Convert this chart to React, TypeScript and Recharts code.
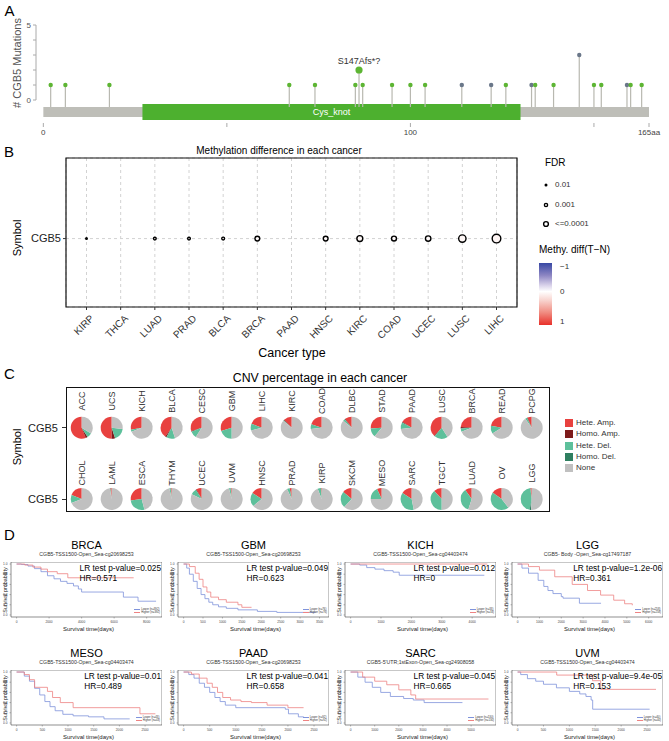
import React from 'react';
import {
  ScatterChart,
  Scatter,
  XAxis,
  YAxis,
  ReferenceArea,
  ReferenceLine,
  CartesianGrid,
  PieChart,
  Pie,
  Cell,
  LineChart,
  Line,
} from 'recharts';

const FONT = 'Arial, "Liberation Sans", Helvetica, sans-serif';

// ---------- A: lollipop of CGB5 mutations ----------
const proteinLength = 165;
const domainName = 'Cys_knot';
const domainStart = 27;
const domainEnd = 130;
const mutPositions = [2, 6, 18, 67, 74, 85, 86, 87, 95, 100, 104, 114, 122, 126, 133, 134, 139, 146, 150, 152, 159, 160, 163];
const mutCounts = [1, 1, 1, 1, 1, 1, 2, 1, 1, 1, 1, 1, 1, 1, 1, 1, 1, 3, 1, 1, 1, 1, 1];
const mutKinds = [
  'missense', 'missense', 'missense', 'missense', 'missense', 'missense', 'missense', 'missense',
  'missense', 'missense', 'missense', 'other', 'other', 'missense', 'other', 'missense',
  'missense', 'other', 'missense', 'missense', 'other', 'missense', 'missense',
];
const mutLabels: Record<number, string> = { 86: 'S147Afs*?' };
const aTicks = [0, 50, 100, 150, 165];

// ---------- B: methylation difference ----------
const methCancers = ['KIRP', 'THCA', 'LUAD', 'PRAD', 'BLCA', 'BRCA', 'PAAD', 'HNSC', 'KIRC', 'COAD', 'UCEC', 'LUSC', 'LIHC'];
// -log10(FDR), null = not significant
const methFdr = [2.0, null, 2.7, 2.7, 2.8, 4.0, null, 4.0, 4.7, 4.1, 4.4, 5.6, 6.4];
const methDiff = [0.05, null, 0.04, 0.04, 0.05, 0.03, null, 0.03, 0.04, 0.03, 0.03, 0.04, 0.05];
const fdrLegend = [
  { label: '0.01', v: 2 },
  { label: '0.001', v: 3 },
  { label: '<=0.0001', v: 4 },
];

// ---------- C: CNV pies ----------
const cnvCancers = [
  'ACC', 'UCS', 'KICH', 'BLCA', 'CESC', 'GBM', 'LIHC', 'KIRC', 'COAD', 'DLBC', 'STAD', 'PAAD', 'LUSC', 'BRCA', 'READ', 'PCPG',
  'CHOL', 'LAML', 'ESCA', 'THYM', 'UCEC', 'UVM', 'HNSC', 'PRAD', 'KIRP', 'SKCM', 'MESO', 'SARC', 'TGCT', 'LUAD', 'OV', 'LGG',
];
const hetAmp = [
  0.56, 0.5, 0.28, 0.4, 0.3, 0.3, 0.19, 0.12, 0.2, 0.1, 0.26, 0.16, 0.38, 0.24, 0.22, 0.06,
  0.19, 0.02, 0.27, 0.015, 0.08, 0.015, 0.16, 0.03, 0.01, 0.14, 0.07, 0.16, 0.12, 0.1, 0.15, 0.02,
];
const homAmp = [
  0.03, 0.05, 0, 0.02, 0.01, 0, 0, 0.01, 0, 0.01, 0, 0.01, 0.01, 0.02, 0, 0.01,
  0, 0, 0, 0, 0.01, 0, 0, 0, 0, 0, 0, 0, 0, 0, 0.005, 0,
];
const hetDel = [
  0.07, 0.18, 0.03, 0.13, 0.1, 0.2, 0.1, 0.01, 0.07, 0.03, 0.13, 0.1, 0.2, 0.05, 0.12, 0.03,
  0.12, 0.01, 0.27, 0.02, 0.09, 0.025, 0.2, 0.04, 0.05, 0.24, 0.18, 0.37, 0.38, 0.35, 0.45, 0.45,
];
const homDel = [
  0, 0, 0, 0, 0, 0, 0, 0, 0, 0, 0, 0, 0, 0, 0, 0,
  0, 0, 0, 0, 0, 0, 0, 0, 0, 0, 0, 0, 0, 0, 0, 0.02,
];
const cnvTypes = ['Hete. Amp.', 'Homo. Amp.', 'Hete. Del.', 'Homo. Del.', 'None'];
const cnvColors = ['#E8413F', '#7E1B1B', '#5DC09B', '#2F7F60', '#C0C0C0'];

// ---------- D: survival curves (time in days, survival probability) ----------
const brcaLow = [[0, 1], [300, 0.99], [700, 0.96], [1100, 0.91], [1500, 0.85], [1900, 0.77], [2300, 0.71], [2700, 0.66], [3100, 0.62], [3500, 0.57], [3800, 0.51], [4000, 0.45], [6570, 0.35], [7470, 0.27], [8580, 0.27]];
const brcaHigh = [[0, 1], [500, 0.98], [1000, 0.94], [1500, 0.9], [1900, 0.85], [2500, 0.81], [3150, 0.73], [7200, 0.73]];
const gbmLow = [[0, 1], [80, 0.92], [150, 0.8], [250, 0.66], [350, 0.52], [450, 0.4], [550, 0.32], [650, 0.25], [750, 0.2], [900, 0.16], [1100, 0.13], [1400, 0.1], [1900, 0.07], [2400, 0.05], [3400, 0.05]];
const gbmHigh = [[0, 1], [150, 0.95], [300, 0.82], [400, 0.7], [500, 0.55], [600, 0.45], [700, 0.35], [900, 0.3], [1100, 0.25], [1400, 0.2], [1500, 0.15], [1750, 0.15]];
const kichLow = [[0, 1], [300, 0.98], [530, 0.93], [800, 0.9], [1100, 0.87], [1400, 0.84], [1600, 0.78], [4400, 0.78]];
const kichHigh = [[0, 1], [4500, 1]];
const lggLow = [[0, 1], [200, 0.92], [500, 0.82], [940, 0.68], [1200, 0.56], [1390, 0.48], [1620, 0.42], [2000, 0.36], [2080, 0.33], [2830, 0.23], [3820, 0.23]];
const lggHigh = [[0, 1], [500, 0.95], [1000, 0.88], [1700, 0.75], [2500, 0.6], [3200, 0.48], [3800, 0.39], [4400, 0.29], [4900, 0.22], [5250, 0.19]];
const mesoLow = [[0, 1], [150, 0.92], [250, 0.82], [350, 0.68], [450, 0.55], [550, 0.42], [650, 0.32], [750, 0.24], [900, 0.17], [1100, 0.14], [1400, 0.12], [1700, 0.08], [2200, 0.08]];
const mesoHigh = [[0, 1], [150, 0.95], [250, 0.85], [350, 0.7], [600, 0.62], [700, 0.5], [850, 0.4], [1100, 0.3], [2400, 0.18], [2700, 0.18]];
const paadLow = [[0, 1], [100, 0.95], [200, 0.88], [300, 0.78], [400, 0.7], [500, 0.6], [600, 0.5], [700, 0.42], [800, 0.35], [1000, 0.3], [1950, 0.27], [2010, 0.18], [2200, 0.12], [2300, 0.1]];
const paadHigh = [[0, 1], [150, 0.96], [300, 0.88], [450, 0.78], [550, 0.7], [650, 0.6], [750, 0.5], [900, 0.45], [1100, 0.42], [1300, 0.4], [1600, 0.35], [2000, 0.3], [2300, 0.3]];
const sarcLow = [[0, 1], [300, 0.9], [600, 0.8], [900, 0.7], [1250, 0.6], [1650, 0.52], [2200, 0.48], [2600, 0.45], [3050, 0.4], [4640, 0.4]];
const sarcHigh = [[0, 1], [500, 0.9], [1000, 0.82], [1500, 0.75], [2000, 0.65], [2500, 0.55], [2700, 0.47], [5720, 0.47]];
const uvmLow = [[0, 1], [60, 0.95], [190, 0.87], [350, 0.82], [500, 0.76], [750, 0.69], [1000, 0.62], [1200, 0.57], [1320, 0.52], [1420, 0.45], [1450, 0.27], [2550, 0.27]];
const uvmHigh = [[0, 1], [755, 0.94], [1447, 0.83], [1604, 0.66], [2673, 0.66]];

const kmPanels = [
  { name: 'BRCA', probe: 'CGB5-TSS1500-Open_Sea-cg20698253', p: '0.025', hr: '0.571', low: brcaLow, high: brcaHigh, xMax: 8600, ticks: [0, 2000, 4000, 6000, 8000], nLow: 392, nHigh: 392 },
  { name: 'GBM', probe: 'CGB5-TSS1500-Open_Sea-cg20698253', p: '0.049', hr: '0.623', low: gbmLow, high: gbmHigh, xMax: 3600, ticks: [0, 500, 1000, 1500, 2000, 2500, 3000, 3500], nLow: 76, nHigh: 76 },
  { name: 'KICH', probe: 'CGB5-TSS1500-Open_Sea-cg04403474', p: '0.012', hr: '0', low: kichLow, high: kichHigh, xMax: 4600, ticks: [0, 1000, 2000, 3000, 4000], nLow: 33, nHigh: 33 },
  { name: 'LGG', probe: 'CGB5- Body -Open_Sea-cg17497187', p: '1.2e-06', hr: '0.361', low: lggLow, high: lggHigh, xMax: 6400, ticks: [0, 1000, 2000, 3000, 4000, 5000, 6000], nLow: 258, nHigh: 258 },
  { name: 'MESO', probe: 'CGB5-TSS1500-Open_Sea-cg04403474', p: '0.01', hr: '0.489', low: mesoLow, high: mesoHigh, xMax: 2720, ticks: [0, 500, 1000, 1500, 2000, 2500], nLow: 43, nHigh: 43 },
  { name: 'PAAD', probe: 'CGB5-TSS1500-Open_Sea-cg20698253', p: '0.041', hr: '0.658', low: paadLow, high: paadHigh, xMax: 2680, ticks: [0, 500, 1000, 1500, 2000, 2500], nLow: 92, nHigh: 92 },
  { name: 'SARC', probe: "CGB5-5'UTR;1stExon-Open_Sea-cg24908058", p: '0.045', hr: '0.665', low: sarcLow, high: sarcHigh, xMax: 5800, ticks: [0, 1000, 2000, 3000, 4000, 5000], nLow: 130, nHigh: 130 },
  { name: 'UVM', probe: 'CGB5-TSS1500-Open_Sea-cg04403474', p: '9.4e-05', hr: '0.153', low: uvmLow, high: uvmHigh, xMax: 2700, ticks: [0, 500, 1000, 1500, 2000, 2500], nLow: 40, nHigh: 40 },
];

// ---------- helpers ----------
const Label = ({ x, y, children, size = 10, color = '#000', rotate = 0, anchor = 'middle' }: any) => {
  const tx = anchor === 'middle' ? '-50%' : anchor === 'end' ? '-100%' : '0';
  return (
    <div
      style={{
        position: 'absolute',
        left: x,
        top: y,
        transform: `translate(${tx},-50%) rotate(${rotate}deg)`,
        fontSize: size,
        color,
        whiteSpace: 'nowrap',
        lineHeight: 1,
      }}
    >
      {children}
    </div>
  );
};

const fdrRadius = (v: number) => 0.8 * v - 0.8;
const diffColor = (d: number) => {
  // white -> red for positive difference
  const t = Math.max(0, Math.min(1, d));
  const r = Math.round(255 + (232 - 255) * t);
  const g = Math.round(255 + (48 - 255) * t);
  const b = Math.round(255 + (42 - 255) * t);
  return `rgb(${r},${g},${b})`;
};

// ---------- panel A ----------
const mutations = mutPositions.map((pos, i) => ({ pos, count: mutCounts[i], kind: mutKinds[i], label: mutLabels[pos] }));
const backboneTop = -0.47;

const LollipopHead = (p: any) => {
  const { cx, cy, payload } = p;
  const fill = payload.kind === 'missense' ? '#5DB533' : '#6A7789';
  return (
    <g>
      <circle cx={cx} cy={cy} r={payload.label ? 3.6 : 2.2} fill={fill} />
      {payload.label && (
        <text x={cx} y={cy - 6} textAnchor="middle" fontSize={9} fill="#333">
          {payload.label}
        </text>
      )}
    </g>
  );
};

function PanelA() {
  return (
    <div style={{ position: 'absolute', left: 0, top: 0 }}>
      <ScatterChart width={669} height={140} margin={{ top: 25, right: 20, bottom: 2, left: 24 }}>
        <XAxis
          type="number"
          dataKey="pos"
          domain={[-2, proteinLength]}
          allowDataOverflow
          ticks={aTicks}
          interval={0}
          tickFormatter={(v: number) => (v === 0 || v === 100 ? String(v) : v === proteinLength ? `${v}aa` : '')}
          axisLine={false}
          tickSize={4}
          tickLine={{ stroke: '#aaa' }}
          tick={{ fontSize: 8, fill: '#444' }}
          height={15}
        />
        <YAxis
          type="number"
          dataKey="count"
          domain={[-1.533, 5]}
          allowDataOverflow
          ticks={[0, 1, 2, 3, 4, 5]}
          interval={0}
          tickFormatter={(v: number) => (v === 0 || v === 5 ? String(v) : '')}
          axisLine={false}
          tickSize={3}
          tickLine={{ stroke: '#aaa' }}
          tick={{ fontSize: 8, fill: '#555' }}
          width={12}
        />
        <ReferenceLine segment={[{ x: -2, y: 0 }, { x: -2, y: 5 }]} stroke="#aaa" ifOverflow="visible" />
        <ReferenceArea x1={0} x2={proteinLength} y1={-1.13} y2={backboneTop} fill="#BEBEB8" fillOpacity={1} />
        <ReferenceArea
          x1={domainStart}
          x2={domainEnd}
          y1={-1.33}
          y2={-0.27}
          fill="#4DB02F"
          fillOpacity={1}
          label={{ value: domainName, position: 'center', fill: '#fff', fontSize: 9 }}
        />
        {mutations.map((m) => (
          <ReferenceLine
            key={m.pos}
            segment={[{ x: m.pos, y: backboneTop }, { x: m.pos, y: m.count }]}
            stroke="#B8B8B0"
            strokeWidth={1.2}
            ifOverflow="visible"
          />
        ))}
        <Scatter data={mutations} isAnimationActive={false} shape={LollipopHead} />
      </ScatterChart>
    </div>
  );
}

// ---------- panel B ----------
const methPoints = methCancers
  .map((c, i) => ({ x: i + 1, y: 1, cancer: c, fdr: methFdr[i], diff: methDiff[i] }))
  .filter((d) => d.fdr !== null);

const SlantTick = ({ x, y, payload }: any) => (
  <g transform={`translate(${x + 3},${y + 2}) rotate(-45)`}>
    <text x={0} y={0} dy="0.71em" textAnchor="end" fontSize={10} fill="#333">
      {methCancers[payload.value - 1]}
    </text>
  </g>
);

function PanelB() {
  return (
    <div style={{ position: 'absolute', left: 0, top: 140 }}>
      <ScatterChart width={669} height={222} margin={{ top: 18, right: 152, bottom: 0, left: 20 }}>
        <CartesianGrid strokeDasharray="3 3" stroke="#d2d2d2" />
        <XAxis
          type="number"
          dataKey="x"
          domain={[0.4, methCancers.length + 0.6]}
          allowDataOverflow
          ticks={methCancers.map((_, i) => i + 1)}
          interval={0}
          tick={<SlantTick />}
          axisLine={false}
          tickSize={3}
          tickLine={{ stroke: '#333' }}
          height={55}
        />
        <YAxis
          type="number"
          dataKey="y"
          domain={[0.449, 1.649]}
          allowDataOverflow
          ticks={[1]}
          tickFormatter={() => 'CGB5'}
          axisLine={false}
          tickSize={3}
          tickLine={{ stroke: '#333' }}
          tick={{ fontSize: 11, fill: '#222' }}
          width={46}
        />
        <ReferenceArea
          x1={0.4}
          x2={methCancers.length + 0.6}
          y1={0.449}
          y2={1.649}
          fill="none"
          stroke="#111"
          strokeWidth={1.2}
          ifOverflow="visible"
        />
        <Scatter
          data={methPoints}
          isAnimationActive={false}
          shape={(p: any) => (
            <circle
              cx={p.cx}
              cy={p.cy}
              r={fdrRadius(p.payload.fdr)}
              fill={diffColor(p.payload.diff)}
              stroke="#000"
              strokeWidth={1.4}
            />
          )}
        />
      </ScatterChart>
    </div>
  );
}

function LegendB() {
  return (
    <>
      <Label x={545} y={163} size={10} anchor="start">FDR</Label>
      {fdrLegend.map((f, i) => (
        <React.Fragment key={f.label}>
          <svg style={{ position: 'absolute', left: 540, top: 179 + i * 19.7 }} width={12} height={12}>
            <circle cx={6} cy={6} r={fdrRadius(f.v)} fill="#fff" stroke="#000" strokeWidth={1.4} />
          </svg>
          <Label x={555} y={185 + i * 19.7} size={8} color="#333" anchor="start">
            {f.label}
          </Label>
        </React.Fragment>
      ))}
      <Label x={539} y={250} size={10} anchor="start">Methy. diff(T{'\u2212'}N)</Label>
      <div
        style={{
          position: 'absolute',
          left: 539,
          top: 263,
          width: 12.5,
          height: 62,
          background:
            'linear-gradient(to bottom, #3848A4 0%, #8D86C3 20%, #D9D2EA 36%, #ffffff 46%, #F8D4CF 60%, #F08B80 80%, #E8302A 100%)',
        }}
      />
      <Label x={560} y={267} size={8} color="#333" anchor="start">{'\u2212'}1</Label>
      <Label x={560} y={292} size={8} color="#333" anchor="start">0</Label>
      <Label x={560} y={322} size={8} color="#333" anchor="start">1</Label>
    </>
  );
}

// ---------- panel C ----------
const cnvSlices = cnvCancers.map((c, i) => {
  const vals = [hetAmp[i], homAmp[i], hetDel[i], homDel[i]];
  const none = 1 - vals.reduce((a, b) => a + b, 0);
  return [...vals, none].map((value, j) => ({ name: cnvTypes[j], value }));
});
const pieX0 = 81.7;
const pieStep = 30;
const pieRowY = [427.7, 499];

function PanelC() {
  return (
    <>
      <div
        style={{
          position: 'absolute',
          left: 66,
          top: 387,
          width: 484,
          height: 125,
          border: '1.5px solid #111',
          boxSizing: 'border-box',
        }}
      />
      <div style={{ position: 'absolute', left: 0, top: 385 }}>
        <PieChart width={669} height={130} margin={{ top: 0, right: 0, bottom: 0, left: 0 }}>
          {cnvCancers.map((c, i) => {
            const row = Math.floor(i / 16);
            const col = i % 16;
            return (
              <Pie
                key={c}
                data={cnvSlices[i]}
                dataKey="value"
                cx={pieX0 + pieStep * col}
                cy={pieRowY[row] - 385}
                outerRadius={11}
                startAngle={90}
                endAngle={450}
                stroke="none"
                isAnimationActive={false}
              >
                {cnvSlices[i].map((s, j) => (
                  <Cell key={s.name} fill={cnvColors[j]} />
                ))}
              </Pie>
            );
          })}
        </PieChart>
      </div>
      {cnvCancers.map((c, i) => (
        <Label key={c} x={pieX0 + pieStep * (i % 16)} y={i < 16 ? 401 : 473} size={9} color="#333" rotate={-90}>
          {c}
        </Label>
      ))}
      {pieRowY.map((y) => (
        <React.Fragment key={y}>
          <Label x={58} y={y} size={11} color="#222" anchor="end">CGB5</Label>
          <div style={{ position: 'absolute', left: 62, top: y - 0.5, width: 4, height: 1, background: '#333' }} />
        </React.Fragment>
      ))}
      <Label x={17} y={447} size={11} rotate={-90}>Symbol</Label>
      <Label x={320} y={378} size={12.3}>CNV percentage in each cancer</Label>
      {cnvTypes.map((t, j) => (
        <React.Fragment key={t}>
          <div style={{ position: 'absolute', left: 565, top: 419.3 + j * 11.1, width: 8, height: 8, background: cnvColors[j] }} />
          <Label x={576} y={423.3 + j * 11.1} size={8} color="#333" anchor="start">
            {t}
          </Label>
        </React.Fragment>
      ))}
    </>
  );
}

// ---------- panel D ----------
const KM_W = 151;
const KM_H = 55;
const kmLefts = [11, 178, 345, 512];
const kmTops = [562, 670];
const lowColor = '#7F93DB';
const highColor = '#EE8383';

function KmPanel({ panel, left, top }: any) {
  const lo = panel.low.map(([t, s]: number[]) => ({ t, s }));
  const hi = panel.high.map(([t, s]: number[]) => ({ t, s }));
  const x0 = -0.04 * panel.xMax;
  const x1 = 1.04 * panel.xMax;
  return (
    <div style={{ position: 'absolute', left, top, width: KM_W, height: KM_H }}>
      <Label x={KM_W / 2} y={-17.5} size={11}>{panel.name}</Label>
      <Label x={KM_W / 2} y={-7} size={5.2} color="#333">{panel.probe}</Label>
      <div style={{ position: 'absolute', left: -8, top: 0 }}>
        <LineChart width={KM_W + 8} height={KM_H + 9} margin={{ top: 0, right: 0, bottom: 0, left: 0 }}>
          <XAxis
            type="number"
            dataKey="t"
            domain={[x0, x1]}
            allowDataOverflow
            ticks={panel.ticks}
            interval={0}
            axisLine={false}
            tickSize={1.5}
            tickLine={{ stroke: '#555', strokeWidth: 0.4 }}
            tick={{ fontSize: 3.2, fill: '#444' }}
            height={9}
          />
          <YAxis
            type="number"
            domain={[-0.04, 1.04]}
            allowDataOverflow
            ticks={[0, 0.2, 0.4, 0.6, 0.8, 1]}
            interval={0}
            tickFormatter={(v: number) => v.toFixed(1)}
            axisLine={false}
            tickSize={1.5}
            tickLine={{ stroke: '#555', strokeWidth: 0.4 }}
            tick={{ fontSize: 3.2, fill: '#444' }}
            width={8}
          />
          <ReferenceArea
            x1={x0}
            x2={x1}
            y1={-0.04}
            y2={1.04}
            fill="none"
            stroke="#444"
            strokeWidth={0.6}
            ifOverflow="visible"
          />
          <Line data={lo} dataKey="s" type="stepAfter" stroke={lowColor} strokeWidth={0.8} dot={false} isAnimationActive={false} />
          <Line data={hi} dataKey="s" type="stepAfter" stroke={highColor} strokeWidth={0.8} dot={false} isAnimationActive={false} />
        </LineChart>
      </div>
      <div style={{ position: 'absolute', right: 1, top: 1, fontSize: 8.3, lineHeight: '10px', whiteSpace: 'nowrap' }}>
        <div>LR test p-value={panel.p}</div>
        <div>HR={panel.hr}</div>
      </div>
      <div style={{ position: 'absolute', right: 2, top: 46, fontSize: 2.8, lineHeight: '3.4px', color: '#333', whiteSpace: 'nowrap' }}>
        <div>
          <span style={{ display: 'inline-block', width: 6, height: 0.6, background: lowColor, verticalAlign: 'middle', marginRight: 1 }} />
          Lower (n={panel.nLow})
        </div>
        <div>
          <span style={{ display: 'inline-block', width: 6, height: 0.6, background: highColor, verticalAlign: 'middle', marginRight: 1 }} />
          Higher (n={panel.nHigh})
        </div>
      </div>
      <Label x={KM_W / 2 + 2} y={67} size={6} color="#222">Survival time(days)</Label>
      <Label x={-5} y={KM_H / 2} size={5.4} color="#222" rotate={-90}>Survival probability</Label>
    </div>
  );
}

export default function App() {
  return (
    <div
      style={{
        position: 'absolute',
        left: 0,
        top: 0,
        width: 669,
        height: 741,
        background: '#fff',
        fontFamily: FONT,
        overflow: 'hidden',
      }}
    >
      {/* A */}
      <Label x={9.5} y={10} size={15}>A</Label>
      <PanelA />
      <Label x={17} y={63} size={11} color="#555" rotate={-90}># CGB5 Mutations</Label>

      {/* B */}
      <Label x={9} y={151} size={15}>B</Label>
      <Label x={279} y={151} size={10}>Methylation difference in each cancer</Label>
      <PanelB />
      <Label x={17} y={238} size={11} rotate={-90}>Symbol</Label>
      <Label x={292} y={353} size={12.5}>Cancer type</Label>
      <LegendB />

      {/* C */}
      <Label x={9.5} y={373} size={15}>C</Label>
      <PanelC />

      {/* D */}
      <Label x={9.5} y={534} size={15}>D</Label>
      {kmPanels.map((p, i) => (
        <KmPanel key={p.name} panel={p} left={kmLefts[i % 4]} top={kmTops[Math.floor(i / 4)]} />
      ))}
    </div>
  );
}
